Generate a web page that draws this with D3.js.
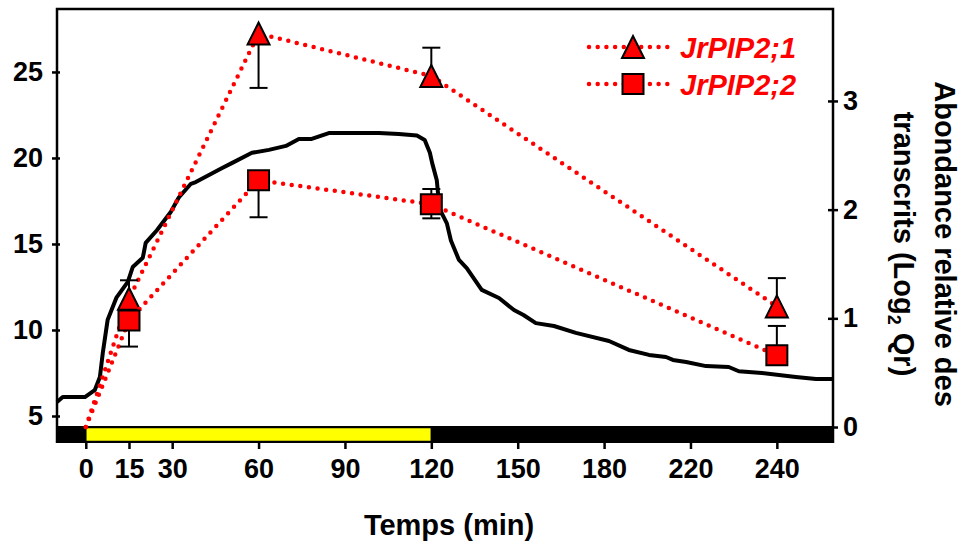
<!DOCTYPE html>
<html>
<head>
<meta charset="utf-8">
<script src="https://cdn.jsdelivr.net/npm/d3@7"></script>
<style>
  body { margin: 0; background: #fff; }
  text { font-family: "Liberation Sans", Arial, sans-serif; font-weight: bold; }
</style>
</head>
<body>
<div id="chart-container"></div>
<script>
// black trace (left axis), time in min
const curveTime = [-10, -8, -0.3, 3.1, 4.9, 5.9, 7.6, 10.7, 14.6, 16.3, 19.8, 20.8, 24.7, 29.5, 32.3, 36.5,
  38.2, 47.2, 50.7, 57.7, 63.6, 69.5, 74, 78.2, 84.4, 101.8, 108.7, 115, 117.7, 119.5, 120.3, 121.9,
  122.3, 123, 125.4, 126.8, 129.6, 132.3, 137.5, 143.5, 148.7, 152, 156.3, 162.6, 170.2, 181.7,
  188.6, 195.6, 201.5, 203.9, 208.5, 215.4, 223.3, 226.8, 234.8, 246.6, 253.6, 259.5];
const curveValue = [5.81, 6.1, 6.1, 6.5, 7.27, 8.66, 10.6, 11.9, 12.8, 13.66, 14.2, 15.06, 15.8, 16.86, 17.7, 18.5,
  18.6, 19.4, 19.7, 20.3, 20.47, 20.7, 21.1, 21.1, 21.45, 21.45, 21.4, 21.3, 21.05, 20.3, 19.7, 18.7,
  18.0, 17.0, 16.2, 15.2, 14.07, 13.6, 12.33, 11.86, 11.16, 10.87, 10.4, 10.23, 9.83, 9.36,
  8.84, 8.55, 8.43, 8.26, 8.14, 7.9, 7.85, 7.6, 7.5, 7.27, 7.15, 7.15];

// transcript abundance (right axis)
const sampleTime = [0, 15, 60, 120, 240];
const pip21Value = [0, 1.18, 3.62, 3.23, 1.11];
const pip21ErrUp = [0, 0.17, 0, 0.26, 0.26];
const pip21ErrDown = [0, 0, 0.5, 0, 0];
const pip22Value = [0, 0.98, 2.27, 2.05, 0.66];
const pip22ErrUp = [0, 0, 0, 0.14, 0.27];
const pip22ErrDown = [0, 0.24, 0.34, 0.13, 0];

const xTickValues = [0, 15, 30, 60, 90, 120, 150, 180, 210, 240];
const xTickLabels = ['0', '15', '30', '60', '90', '120', '150', '180', '220', '240'];
const leftTicks = [5, 10, 15, 20, 25];
const rightTicks = [0, 1, 2, 3];
const lightPeriod = [0, 120];
const seriesNames = ['JrPIP2;1', 'JrPIP2;2'];

const width = 966;
const height = 546;
const margin = {
  top: 9, right: 133, bottom: 103, left: 57,
};
const plotRight = width - margin.right;
const plotBottom = height - margin.bottom;
const barHeight = 17;
const red = '#ff0000';

const svg = d3
  .select('#chart-container')
  .append('svg')
  .attr('width', width)
  .attr('height', height);

const x = d3.scaleLinear().domain([-10, 259.5]).range([margin.left, plotRight]);
const yLeft = d3.scaleLinear().domain([3.43, 28.66]).range([plotBottom, margin.top]);
const yRight = d3.scaleLinear().domain([-0.147, 3.846]).range([plotBottom, margin.top]);

// light / dark bar
svg.append('rect')
  .attr('x', margin.left)
  .attr('y', plotBottom - barHeight)
  .attr('width', plotRight - margin.left)
  .attr('height', barHeight)
  .attr('fill', '#000');
svg.append('rect')
  .attr('x', x(lightPeriod[0]))
  .attr('y', plotBottom - barHeight + 1.5)
  .attr('width', x(lightPeriod[1]) - x(lightPeriod[0]))
  .attr('height', barHeight - 3)
  .attr('fill', '#ffff00')
  .attr('stroke', '#000')
  .attr('stroke-width', 1.5);

// frame
svg.append('path')
  .attr('d', `M${margin.left},${plotBottom}V${margin.top}H${plotRight}V${plotBottom}`)
  .attr('fill', 'none')
  .attr('stroke', '#000')
  .attr('stroke-width', 2.5);

// axes
const xAxis = svg.append('g')
  .attr('transform', `translate(0,${plotBottom})`)
  .call(d3.axisBottom(x)
    .tickValues(xTickValues)
    .tickFormat((_, i) => xTickLabels[i])
    .tickSize(6)
    .tickPadding(10));
xAxis.select('.domain').remove();

const leftAxis = svg.append('g')
  .attr('transform', `translate(${margin.left},0)`)
  .call(d3.axisLeft(yLeft).tickValues(leftTicks).tickFormat(d3.format('d'))
    .tickSize(5)
    .tickPadding(9));
leftAxis.select('.domain').remove();
leftAxis.selectAll('.tick line').attr('x2', -5).attr('x1', 3);

const rightAxis = svg.append('g')
  .attr('transform', `translate(${plotRight},0)`)
  .call(d3.axisRight(yRight).tickValues(rightTicks).tickFormat(d3.format('d'))
    .tickSize(5)
    .tickPadding(5));
rightAxis.select('.domain').remove();
rightAxis.selectAll('.tick line').attr('x1', -5).attr('x2', 5);

svg.selectAll('.tick line').attr('stroke', '#000').attr('stroke-width', 2.5);
svg.selectAll('.tick text')
  .attr('fill', '#000')
  .style('font-size', '27px')
  .style('font-family', '"Liberation Sans", Arial, sans-serif')
  .style('font-weight', 'bold');

// axis titles
svg.append('text')
  .attr('x', (margin.left + plotRight) / 2 + 4)
  .attr('y', 535)
  .attr('text-anchor', 'middle')
  .style('font-size', '29px')
  .text('Temps (min)');

const rightTitle = svg.append('text')
  .attr('transform', `translate(935,${(margin.top + plotBottom) / 2 + 18}) rotate(90)`)
  .attr('text-anchor', 'middle')
  .style('font-size', '29px');
rightTitle.append('tspan')
  .attr('x', 0)
  .attr('y', 0)
  .text('Abondance relative des');
const line2 = rightTitle.append('tspan')
  .attr('x', 0)
  .attr('y', 41);
line2.append('tspan').text('transcrits (Log');
line2.append('tspan').attr('dy', 6).style('font-size', '18px').text('2');
line2.append('tspan').attr('dy', -6).text(' Qr)');

// black trace
const curveData = curveTime.map((t, i) => ({ t, v: curveValue[i] }));
svg.append('path')
  .datum(curveData)
  .attr('d', d3.line().x((d) => x(d.t)).y((d) => yLeft(d.v)))
  .attr('fill', 'none')
  .attr('stroke', '#000')
  .attr('stroke-width', 4)
  .attr('stroke-linejoin', 'round');

const triangle = (s) => `M0,${-s / 2}L${s / 2},${s / 2}L${-s / 2},${s / 2}Z`;
const square = (s) => `M${-s / 2},${-s / 2 + 0.5}h${s}v${s - 1}h${-s}Z`;

const series = [
  { name: seriesNames[0], values: pip21Value, up: pip21ErrUp, down: pip21ErrDown, shape: triangle(22) },
  { name: seriesNames[1], values: pip22Value, up: pip22ErrUp, down: pip22ErrDown, shape: square(21) },
];

const dotted = (sel) => sel
  .attr('fill', 'none')
  .attr('stroke', red)
  .attr('stroke-width', 4.5)
  .attr('stroke-linecap', 'round')
  .attr('stroke-dasharray', '0 8.7');

series.forEach((s) => {
  const pts = sampleTime.map((t, i) => ({
    t, v: s.values[i], up: s.up[i], down: s.down[i],
  }));

  svg.append('path')
    .datum(pts)
    .attr('d', d3.line().x((d) => x(d.t)).y((d) => yRight(d.v)))
    .call(dotted);

  const marks = pts.filter((d) => d.t > 0);

  // error bars
  const err = svg.append('g').attr('stroke', '#000').attr('stroke-width', 2);
  marks.forEach((d) => {
    [d.v + d.up, d.v - d.down].forEach((end) => {
      if (end === d.v) return;
      err.append('line')
        .attr('x1', x(d.t)).attr('x2', x(d.t))
        .attr('y1', yRight(d.v)).attr('y2', yRight(end));
      err.append('line')
        .attr('x1', x(d.t) - 9).attr('x2', x(d.t) + 9)
        .attr('y1', yRight(end)).attr('y2', yRight(end));
    });
  });

  svg.append('g')
    .selectAll('path')
    .data(marks)
    .enter()
    .append('path')
    .attr('d', s.shape)
    .attr('transform', (d) => `translate(${x(d.t)},${yRight(d.v)})`)
    .attr('fill', red)
    .attr('stroke', '#000')
    .attr('stroke-width', 2);
});

// legend
const legend = svg.append('g');
series.forEach((s, i) => {
  const ly = 47 + i * 37;
  legend.append('line')
    .attr('x1', 589).attr('x2', 674)
    .attr('y1', ly).attr('y2', ly)
    .call(dotted);
  legend.append('path')
    .attr('d', s.shape)
    .attr('transform', `translate(633,${ly})`)
    .attr('fill', red)
    .attr('stroke', '#000')
    .attr('stroke-width', 2);
  legend.append('text')
    .attr('x', 680)
    .attr('y', ly + 11)
    .attr('fill', red)
    .style('font-size', '29px')
    .style('font-style', 'italic')
    .text(s.name);
});
</script>
</body>
</html>
